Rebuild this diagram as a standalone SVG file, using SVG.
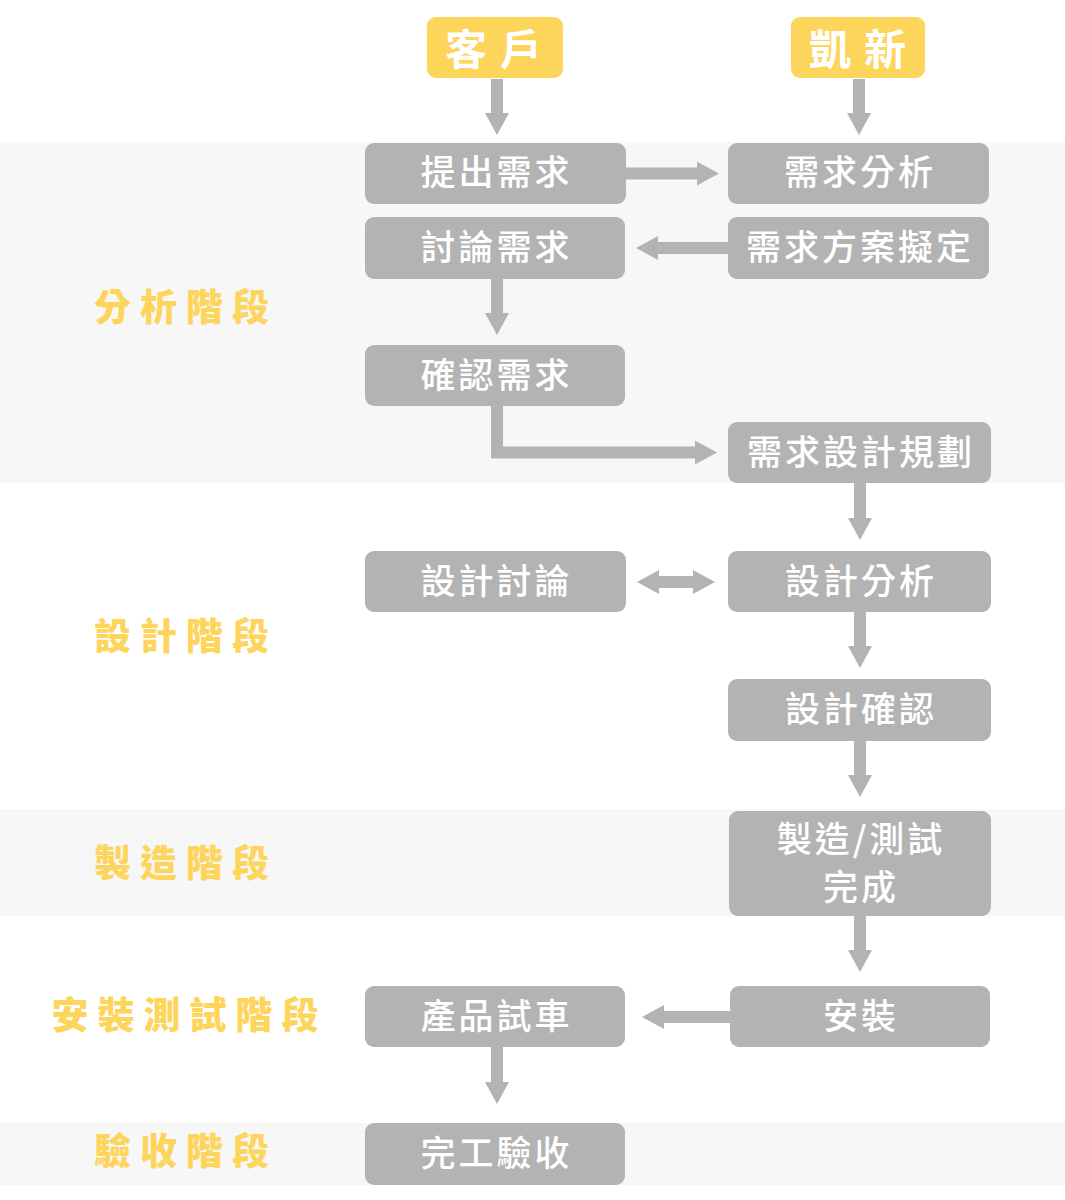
<svg xmlns="http://www.w3.org/2000/svg" width="1065" height="1200" viewBox="0 0 1065 1200">
<style>
.band{fill:#f7f7f7}
.hdr{fill:#fdd55b}
.node{fill:#b3b3b4}
.arr{fill:#b3b3b4}
.ht{font-family:"Noto Sans CJK TC","Noto Sans CJK SC",sans-serif;font-size:42px;font-weight:700;fill:#fff;letter-spacing:13px;text-anchor:middle;dominant-baseline:central}
.nt{font-family:"Noto Sans CJK TC","Noto Sans CJK SC",sans-serif;font-size:35px;font-weight:500;fill:#fff;letter-spacing:3px;text-anchor:middle;dominant-baseline:central}
.st{font-family:"Noto Sans CJK TC","Noto Sans CJK SC",sans-serif;font-size:37px;font-weight:900;fill:#fdd55c;letter-spacing:9px;text-anchor:middle;dominant-baseline:central}
</style>
<rect width="1065" height="1200" fill="#ffffff"/>
<g id="bands">
<rect class="band" x="0" y="142" width="1065" height="341"/>
<rect class="band" x="0" y="809" width="1065" height="107"/>
<rect class="band" x="0" y="1123" width="1065" height="62"/>
</g>
<g id="stages">
<text class="st" x="186" y="305">分析階段</text>
<text class="st" x="186" y="634">設計階段</text>
<text class="st" x="186" y="861">製造階段</text>
<text class="st" x="189.5" y="1013">安裝測試階段</text>
<text class="st" x="186" y="1149">驗收階段</text>
</g>
<g id="connectors">
<polygon class="arr" points="491,79 503,79 503,113 509,113 497,135 485,113 491,113"/>
<polygon class="arr" points="853,79 865,79 865,113 871,113 859,135 847,113 853,113"/>
<polygon class="arr" points="626,167.5 697,167.5 697,161.5 719,173.5 697,185.5 697,179.5 626,179.5"/>
<polygon class="arr" points="728,242 658,242 658,236 636,248 658,260 658,254 728,254"/>
<polygon class="arr" points="491,279 503,279 503,313 509,313 497,335 485,313 491,313"/>
<polygon class="arr" points="491,406 503,406 503,446.5 695,446.5 695,440.5 717,452.5 695,464.5 695,458.5 491,458.5"/>
<polygon class="arr" points="854,483 866,483 866,518 872,518 860,540 848,518 854,518"/>
<polygon class="arr" points="637,582 659,570 659,576 693,576 693,570 715,582 693,594 693,588 659,588 659,594"/>
<polygon class="arr" points="854,612 866,612 866,646 872,646 860,668 848,646 854,646"/>
<polygon class="arr" points="854,741 866,741 866,775 872,775 860,797 848,775 854,775"/>
<polygon class="arr" points="854,916 866,916 866,950 872,950 860,972 848,950 854,950"/>
<polygon class="arr" points="730,1011 664,1011 664,1005 642,1017 664,1029 664,1023 730,1023"/>
<polygon class="arr" points="491,1047 503,1047 503,1082 509,1082 497,1104 485,1082 491,1082"/>
</g>
<g id="client">
<rect class="hdr" x="427" y="17" width="136" height="61" rx="9"/>
<text class="ht" x="500" y="46">客戶</text>
</g>
<g id="kaixin">
<rect class="hdr" x="791" y="17" width="134" height="61" rx="9"/>
<text class="ht" x="864" y="46">凱新</text>
</g>
<g id="n1"><rect class="node" x="365" y="143" width="261" height="61" rx="9"/><text class="nt" x="496.5" y="169">提出需求</text></g>
<g id="n2"><rect class="node" x="728" y="143" width="261" height="61" rx="9"/><text class="nt" x="860" y="169">需求分析</text></g>
<g id="n3"><rect class="node" x="365" y="217" width="260" height="62" rx="9"/><text class="nt" x="496.5" y="244">討論需求</text></g>
<g id="n4"><rect class="node" x="728" y="217" width="261" height="62" rx="9"/><text class="nt" x="860" y="244">需求方案擬定</text></g>
<g id="n5"><rect class="node" x="365" y="345" width="260" height="61" rx="9"/><text class="nt" x="496.5" y="372">確認需求</text></g>
<g id="n6"><rect class="node" x="728" y="422" width="263" height="61" rx="9"/><text class="nt" x="861" y="449">需求設計規劃</text></g>
<g id="n7"><rect class="node" x="365" y="551" width="261" height="61" rx="9"/><text class="nt" x="496.5" y="578">設計討論</text></g>
<g id="n8"><rect class="node" x="728" y="551" width="263" height="61" rx="9"/><text class="nt" x="861" y="578">設計分析</text></g>
<g id="n9"><rect class="node" x="728" y="679" width="263" height="62" rx="9"/><text class="nt" x="861" y="706">設計確認</text></g>
<g id="n10"><rect class="node" x="729" y="811" width="262" height="105" rx="9"/><text class="nt" x="861" y="836">製造/測試</text><text class="nt" x="861" y="884">完成</text></g>
<g id="n11"><rect class="node" x="730" y="986" width="260" height="61" rx="9"/><text class="nt" x="861" y="1013">安裝</text></g>
<g id="n12"><rect class="node" x="365" y="986" width="260" height="61" rx="9"/><text class="nt" x="496.5" y="1013">產品試車</text></g>
<g id="n13"><rect class="node" x="365" y="1123" width="260" height="62" rx="9"/><text class="nt" x="496.5" y="1150">完工驗收</text></g>
</svg>
